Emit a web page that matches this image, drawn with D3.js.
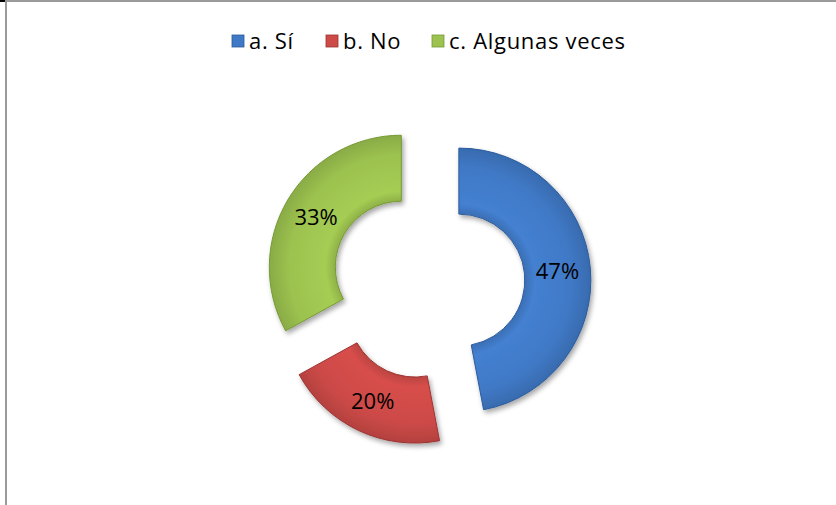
<!DOCTYPE html>
<html>
<head>
<meta charset="utf-8">
<script src="https://cdn.jsdelivr.net/npm/d3@7"></script>
<style>
  body { margin: 0; background: #fff; }
  text { font-family: "Open Sans", Lato, sans-serif; }
</style>
</head>
<body>
<script>
// answers and shares
var categories = ['a. Sí', 'b. No', 'c. Algunas veces'];
var values = [47, 20, 33];
var labels = ['47%', '20%', '33%'];
var colors = ['#4079c6', '#cc4a47', '#9cc24f'];
var edges = ['#2c5b9c', '#9c3331', '#769a36'];

var width = 836, height = 505;
var cx = 428, cy = 283;
var outer = 132, inner = 66, explode = 31;

var svg = d3.select('body').append('svg')
	.attr('width', width)
	.attr('height', height);

// frame lines at top and left
svg.append('line').attr('x1', 5).attr('y1', 1).attr('x2', width).attr('y2', 1)
	.attr('stroke', '#9a9a9a').attr('stroke-width', 2);
svg.append('line').attr('x1', 6).attr('y1', 0).attr('x2', 6).attr('y2', height)
	.attr('stroke', '#9a9a9a').attr('stroke-width', 2);
svg.append('line').attr('x1', 0).attr('y1', 1).attr('x2', 5).attr('y2', 1)
	.attr('stroke', '#000').attr('stroke-width', 2);

var defs = svg.append('defs');
var shadow = defs.append('filter').attr('id', 'shadow')
	.attr('x', '-20%').attr('y', '-20%').attr('width', '140%').attr('height', '140%');
shadow.append('feDropShadow').attr('dx', 2).attr('dy', 3).attr('stdDeviation', 2.5)
	.attr('flood-color', '#000').attr('flood-opacity', 0.35);

colors.forEach(function(c, i) {
	var g = defs.append('radialGradient').attr('id', 'grad' + i)
		.attr('gradientUnits', 'userSpaceOnUse')
		.attr('cx', 0).attr('cy', 0).attr('r', outer);
	g.append('stop').attr('offset', inner / outer).attr('stop-color', d3.color(c).darker(0.25));
	g.append('stop').attr('offset', (inner + 10) / outer).attr('stop-color', d3.color(c).brighter(0.15));
	g.append('stop').attr('offset', 0.85).attr('stop-color', c);
	g.append('stop').attr('offset', 1).attr('stop-color', d3.color(c).darker(0.35));
});

var pie = d3.pie().sort(null).value(function(d) { return d; });
var arc = d3.arc().innerRadius(inner).outerRadius(outer);
var labelArc = d3.arc().innerRadius(outer - 33).outerRadius(outer - 33);

var slices = svg.append('g')
	.attr('transform', 'translate(' + cx + ',' + cy + ')')
	.selectAll('g')
	.data(pie(values))
	.join('g')
	.attr('transform', function(d) {
		var a = (d.startAngle + d.endAngle) / 2;
		return 'translate(' + (Math.sin(a) * explode) + ',' + (-Math.cos(a) * explode) + ')';
	});

slices.append('path')
	.attr('d', arc)
	.attr('fill', function(d, i) { return 'url(#grad' + i + ')'; })
	.attr('stroke', function(d, i) { return edges[i]; })
	.attr('stroke-width', 1)
	.attr('filter', 'url(#shadow)');

slices.append('text')
	.attr('transform', function(d) { return 'translate(' + labelArc.centroid(d) + ')'; })
	.attr('text-anchor', 'middle')
	.attr('dy', '0.36em')
	.attr('font-size', 22)
	.attr('fill', '#000')
	.text(function(d, i) { return labels[i]; });

// legend
var legendX = [232, 326, 432];
var legend = svg.append('g').selectAll('g')
	.data(categories)
	.join('g')
	.attr('transform', function(d, i) { return 'translate(' + legendX[i] + ',35)'; });

legend.append('rect')
	.attr('width', 12).attr('height', 12)
	.attr('fill', function(d, i) { return colors[i]; })
	.attr('stroke', function(d, i) { return edges[i]; })
	.attr('stroke-width', 0.8);

legend.append('text')
	.attr('x', 17).attr('y', 6)
	.attr('dy', '0.36em')
	.attr('font-size', 22)
	.attr('letter-spacing', 0.7)
	.attr('fill', '#000')
	.text(function(d) { return d; });
</script>
</body>
</html>
